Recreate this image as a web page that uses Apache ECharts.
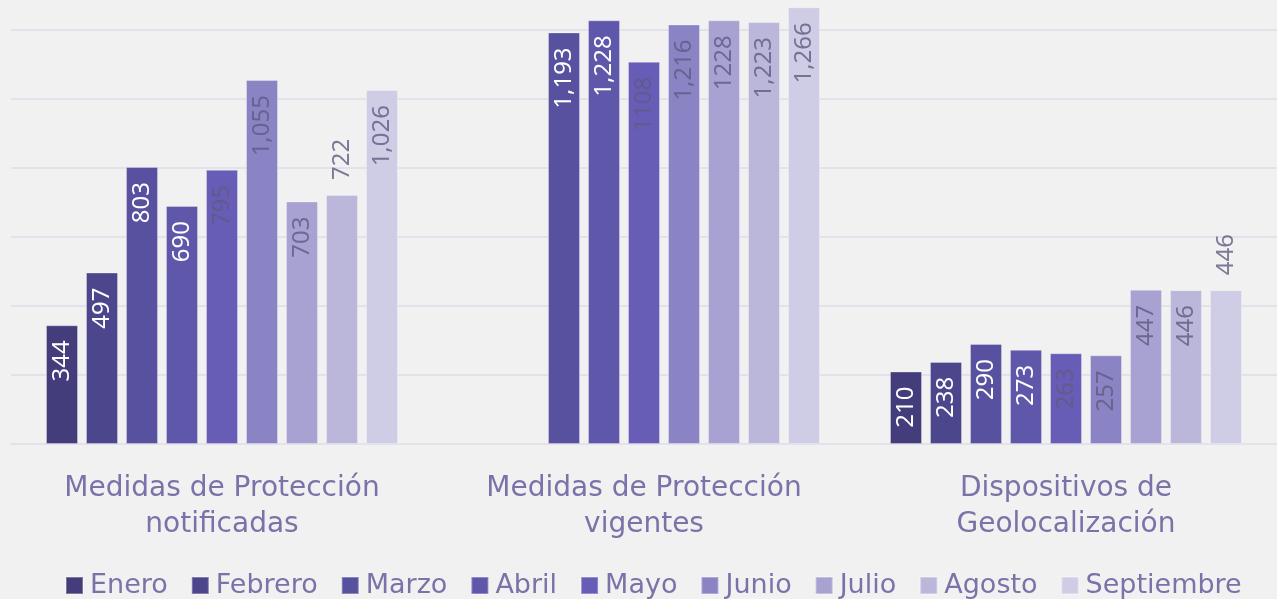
<!DOCTYPE html>
<html>
<head>
<meta charset="utf-8">
<script src="https://cdn.jsdelivr.net/npm/echarts@6/dist/echarts.min.js"></script>
<style>
  html, body { margin: 0; padding: 0; background: #f1f1f1; }
  #chart { width: 1277px; height: 599px; }
</style>
</head>
<body>
<div id="chart"></div>
<script>
// categorias del eje x
const categories = ['Medidas de Protección\nnotificadas', 'Medidas de Protección\nvigentes', 'Dispositivos de\nGeolocalización'];
const months = ['Enero', 'Febrero', 'Marzo', 'Abril', 'Mayo', 'Junio', 'Julio', 'Agosto', 'Septiembre'];

// valores por categoria (un valor por mes)
const notificadas = [344, 497, 803, 690, 795, 1055, 703, 722, 1026];
const vigentes = [null, null, 1193, 1228, 1108, 1216, 1228, 1223, 1266];
const geolocalizacion = [210, 238, 290, 273, 263, 257, 447, 446, 446];

// etiquetas tal como aparecen en el grafico
const notificadasLabels = ['344', '497', '803', '690', '795', '1,055', '703', '722', '1,026'];
const vigentesLabels = ['', '', '1,193', '1,228', '1108', '1,216', '1228', '1,223', '1,266'];
const geoLabels = ['210', '238', '290', '273', '263', '257', '447', '446', '446'];

const yTicks = [0, 200, 400, 600, 800, 1000, 1200];

const colors = ['#433d7c', '#4c468c', '#58519f', '#5f57aa', '#685db6', '#8a84c5', '#a7a2d1', '#bbb7db', '#cfcce5'];
const gray = 'rgba(95,90,130,0.8)';
const labelColors = ['#ffffff', '#ffffff', '#ffffff', '#ffffff', gray, gray, gray, gray, gray];
// etiquetas que se dibujan por encima de la barra
const outsideLabels = [[0, 7], [2, 8]];

const textColor = '#7a72a8';
const font = 'DejaVu Sans';

const myChart = echarts.init(document.getElementById('chart'));

const rows = [notificadas, vigentes, geolocalizacion];
const rowLabels = [notificadasLabels, vigentesLabels, geoLabels];

const series = months.map((m, i) => ({
  name: m,
  type: 'bar',
  barWidth: 32,
  barGap: '25%',
  clip: false,
  itemStyle: {
    color: colors[i],
    borderColor: 'rgba(255,255,255,0.3)',
    borderWidth: 1
  },
  label: {
    show: true,
    position: 'insideTop',
    rotate: 90,
    align: 'right',
    verticalAlign: 'middle',
    distance: 15,
    fontSize: 24,
    fontFamily: 'Noto Sans',
    color: labelColors[i],
    formatter: p => rowLabels[p.dataIndex][i]
  },
  data: rows.map((r, ci) => {
    const outside = outsideLabels.some(o => o[0] === ci && o[1] === i);
    if (!outside) return r[i];
    return {
      value: r[i],
      label: { position: 'top', align: 'left', distance: 15 }
    };
  })
}));

const options = {
  backgroundColor: '#f1f1f1',
  animation: false,
  grid: {
    left: 11,
    right: -7,
    top: 30,
    bottom: 155
  },
  legend: {
    top: 567,
    left: 60,
    icon: 'rect',
    itemWidth: 17,
    itemHeight: 17,
    itemGap: 23,
    textStyle: { color: textColor, fontSize: 27, fontFamily: font, padding: [0, 0, 0, 2] },
    data: months
  },
  xAxis: {
    type: 'category',
    data: categories,
    axisLine: { lineStyle: { color: '#e3e1ea', width: 2 } },
    axisTick: { show: false },
    axisLabel: {
      color: textColor,
      fontSize: 28,
      fontFamily: font,
      lineHeight: 36,
      margin: 27
    }
  },
  yAxis: {
    type: 'value',
    min: yTicks[0],
    max: yTicks[yTicks.length - 1],
    interval: 200,
    axisLabel: { show: false },
    axisLine: { show: false },
    axisTick: { show: false },
    splitLine: { lineStyle: { color: '#e3e1ea', width: 2 } }
  },
  series: series
};

myChart.setOption(options);
</script>
</body>
</html>
